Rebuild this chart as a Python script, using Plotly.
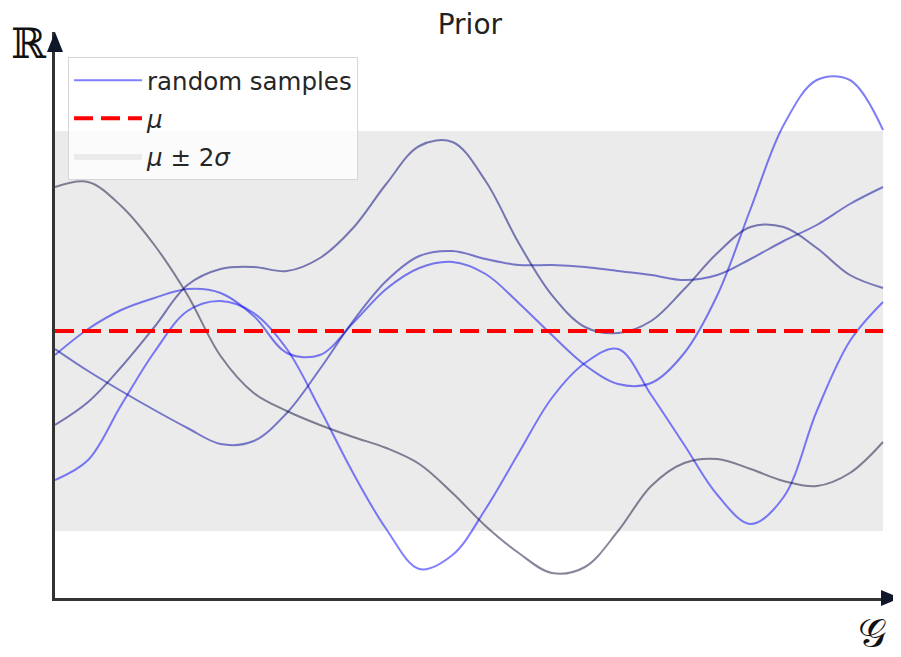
import plotly.graph_objects as go

# ---- data (x: position along G, 0..10 ; y: value in units of sigma) ----
MEAN = 0.0
SIGMA = 1.0
X_MAX = 10.0

x_grid = [0, 0.4, 0.8, 1.2, 1.6, 2.0, 2.4, 2.8, 3.2, 3.6, 4.0, 4.4, 4.8,
          5.2, 5.6, 6.0, 6.4, 6.8, 7.2, 7.6, 8.0, 8.4, 8.8, 9.2, 9.6, 10.0]

sample_a = [1.44, 1.49, 1.25, 0.86, 0.36, -0.25, -0.62, -0.80, -0.94, -1.06, -1.17, -1.33, -1.62,
            -1.95, -2.22, -2.42, -2.36, -2.00, -1.55, -1.32, -1.28, -1.38, -1.50, -1.55, -1.42, -1.11]
sample_b = [-1.49, -1.29, -0.74, -0.21, 0.20, 0.30, 0.18, -0.18, -0.78, -1.42, -1.98, -2.38, -2.24,
            -1.78, -1.22, -0.67, -0.32, -0.18, -0.64, -1.14, -1.64, -1.93, -1.66, -0.80, -0.10, 0.29]
sample_c = [-0.24, 0.02, 0.21, 0.33, 0.42, 0.38, 0.15, -0.22, -0.24, 0.08, 0.42, 0.63, 0.69,
            0.57, 0.28, -0.04, -0.34, -0.53, -0.52, -0.22, 0.36, 1.22, 2.06, 2.51, 2.51, 2.01]
sample_d = [-0.18, -0.40, -0.60, -0.79, -0.97, -1.13, -1.10, -0.82, -0.38, 0.10, 0.50, 0.75, 0.80,
            0.72, 0.66, 0.66, 0.64, 0.60, 0.56, 0.51, 0.56, 0.72, 0.90, 1.06, 1.27, 1.44]
sample_e = [-0.94, -0.71, -0.36, 0.04, 0.46, 0.62, 0.64, 0.60, 0.73, 1.03, 1.47, 1.85, 1.89,
            1.50, 0.88, 0.36, 0.04, -0.02, 0.10, 0.42, 0.78, 1.04, 1.04, 0.83, 0.56, 0.43]

samples = [
    (sample_b, "rgba(0,0,255,0.5)"),
    (sample_c, "rgba(0,0,235,0.5)"),
    (sample_d, "rgba(0,0,165,0.5)"),
    (sample_e, "rgba(0,0,120,0.5)"),
    (sample_a, "rgba(15,15,55,0.5)"),
]

Y_MIN, Y_MAX = -2.67, 2.99
X_RANGE_MAX = 10.205

fig = go.Figure()

# band mu +- 2 sigma
fig.add_trace(go.Scatter(
    x=[0, X_MAX, X_MAX, 0, 0],
    y=[MEAN + 2 * SIGMA, MEAN + 2 * SIGMA, MEAN - 2 * SIGMA, MEAN - 2 * SIGMA, MEAN + 2 * SIGMA],
    fill="toself", fillcolor="#ebebeb", line=dict(width=0), mode="lines",
    name="<i>μ</i> ± 2<i>σ</i>", legendrank=3, legendgroup="g3", hoverinfo="skip"))

for i, (ys, col) in enumerate(samples):
    fig.add_trace(go.Scatter(
        x=x_grid, y=ys, mode="lines", line=dict(color=col, width=2, shape="spline"),
        name="random samples", showlegend=(i == 0), legendrank=1, legendgroup="g1"))

fig.add_trace(go.Scatter(
    x=[0, X_MAX], y=[MEAN, MEAN], mode="lines",
    line=dict(color="red", width=4, dash="19px,8px"),
    name="<i>μ</i>", legendrank=2, legendgroup="g2"))

arrow_col = "#0f172a"
fig.add_shape(type="path", xref="paper", yref="paper", xsizemode="pixel", ysizemode="pixel",
              xanchor=1, yanchor=0, path="M 0 0 L -19 8 L -19 -8 Z",
              fillcolor=arrow_col, line=dict(width=0))
fig.add_shape(type="path", xref="paper", yref="paper", xsizemode="pixel", ysizemode="pixel",
              xanchor=0, yanchor=1, path="M 0 0 L 8 -20 L -8 -20 Z",
              fillcolor=arrow_col, line=dict(width=0))

fig.add_annotation(text="ℝ", xref="paper", yref="paper", x=-0.031, y=0.98,
                   showarrow=False, font=dict(family="DejaVu Serif", size=42, color="#111"),
                   xanchor="center", yanchor="middle")
fig.add_annotation(text="𝒢", xref="paper", yref="paper", x=0.967, y=-0.062,
                   showarrow=False, font=dict(family="DejaVu Serif", size=40, color="#111"),
                   xanchor="center", yanchor="middle")

fig.update_layout(
    width=893, height=649,
    margin=dict(l=47, r=1, t=24, b=59),
    paper_bgcolor="white", plot_bgcolor="white",
    title=dict(text="Prior", x=0.491, xref="paper", xanchor="center", y=0.975, yanchor="middle",
               font=dict(family="DejaVu Sans", size=28, color="#222")),
    xaxis=dict(range=[0, X_RANGE_MAX], showgrid=False, zeroline=False, showticklabels=False,
               ticks="", showline=True, linecolor="#333", linewidth=2.5),
    yaxis=dict(range=[Y_MIN, Y_MAX], showgrid=False, zeroline=False, showticklabels=False,
               ticks="", showline=True, linecolor="#333", linewidth=2.5),
    legend=dict(x=0.0154, y=0.956, xanchor="left", yanchor="top",
                bgcolor="rgba(255,255,255,0.8)", bordercolor="#d6d6d6", borderwidth=1,
                font=dict(family="DejaVu Sans", size=24.5, color="#262626"),
                itemwidth=68, traceorder="grouped", tracegroupgap=3),
    showlegend=True,
)

fig.write_html("out.html")
